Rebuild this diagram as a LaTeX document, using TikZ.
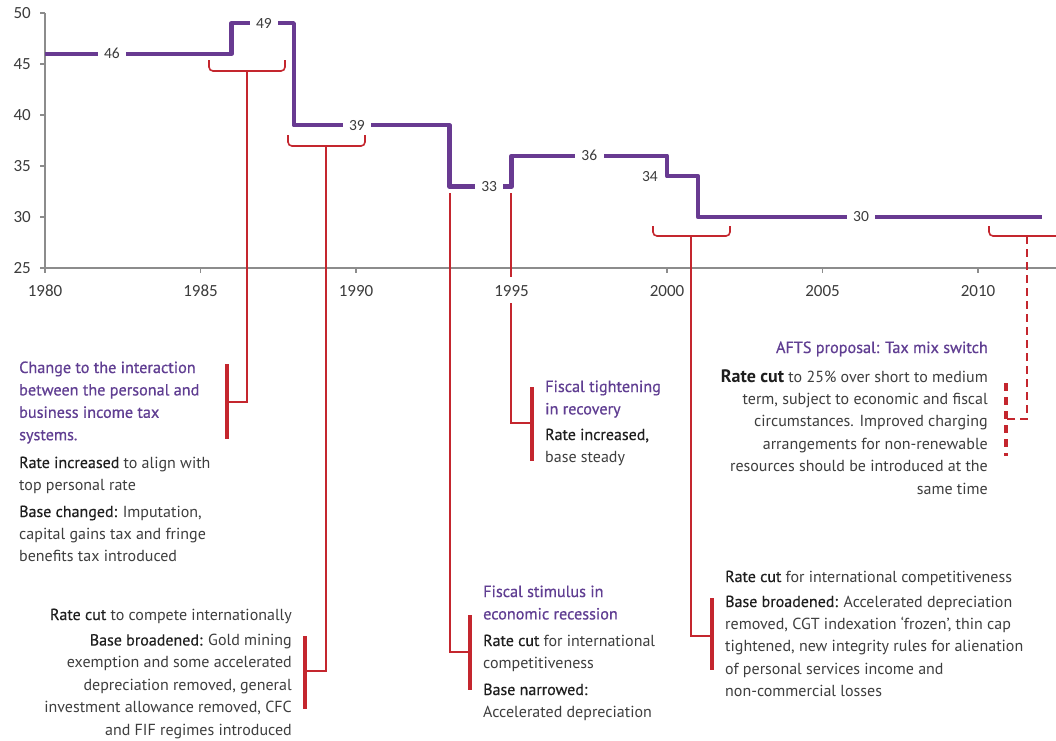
\documentclass[tikz,border=0pt]{standalone}
\usepackage{fontspec}
\setmainfont{PT Sans}
\newfontfamily\titlefont{PT Sans}[FakeBold=0.6]
\newfontfamily\keyfont{PT Sans}[FakeBold=0.35]
\newfontfamily\numfont{Carlito}
\definecolor{linepurple}{RGB}{104,58,145}
\definecolor{titlepurple}{RGB}{96,62,146}
\definecolor{redline}{RGB}{196,38,46}
\definecolor{bodygray}{RGB}{62,62,62}
\definecolor{keygray}{RGB}{30,30,30}
\definecolor{axisgray}{RGB}{140,140,140}
\definecolor{numgray}{RGB}{60,60,60}
\newcommand{\kw}[1]{{\keyfont\color{keygray}#1}}
\begin{document}
\begin{tikzpicture}[x=1pt,y=-1pt,
  txt/.style={inner sep=0pt, font=\fontsize{16}{22.4}\selectfont, text=bodygray},
  ttl/.style={inner sep=0pt, font=\titlefont\fontsize{16.2}{22.4}\selectfont, text=titlepurple},
  axlab/.style={font=\numfont\fontsize{17}{17}\selectfont, text=numgray, inner sep=0pt},
  datlab/.style={font=\numfont\fontsize{15.5}{15.5}\selectfont, text=numgray, fill=white, inner xsep=6.5pt, inner ysep=1pt},
  rate/.style={line width=4.5pt, draw=linepurple, line join=round},
  conn/.style={draw=redline, line width=1.6pt},
  redbar/.style={draw=redline, line width=4pt},
  brk/.style={draw=redline, line width=1.6pt, rounded corners=4pt},
]
\useasboundingbox[fill=white] (0,0) rectangle (1056,740);

% axes
\draw[axisgray, line width=2pt] (45,13) -- (45,268) -- (1056,268);
\foreach \v [count=\i from 0] in {50,45,40,35,30,25} {
  \draw[axisgray, line width=1.5pt] (40,{13+\i*51}) -- (45,{13+\i*51});
  \node[axlab, anchor=east] (y\v) at (31,{13+\i*51}) {\v};
}
\foreach \yr [count=\i from 0] in {1980,1985,1990,1995,2000,2005,2010} {
  \draw[axisgray, line width=1.5pt] ({45+\i*155.5},268) -- ({45+\i*155.5},273);
  \node[axlab] (x\yr) at ({45+\i*155.5},291) {\yr};
}

% rate step line
\begin{scope}[shift={(45pt,-268pt)}, x=31.1pt, y=10.2pt]
\draw[rate] (0,21) -- (6,21) -- (6,24) -- (8,24) -- (8,14) -- (13,14) -- (13,8)
  -- (15,8) -- (15,11) -- (20,11) -- (20,9) -- (21,9) -- (21,5) -- (32.06,5);
\node[datlab] (v46) at (2.15,21) {46};
\node[datlab] (v49) at (7.04,24) {49};
\node[datlab] (v39) at (10.03,14) {39};
\node[datlab] (v33) at (14.28,8) {33};
\node[datlab] (v36) at (17.5,11) {36};
\node[datlab, fill=none] (v34) at (19.45,9) {34};
\node[datlab] (v30) at (26.24,5) {30};
\end{scope}

% brackets
\draw[brk] (209,60) |- (247,71) -| (285,60);
\draw[brk] (288,135) |- (326,146) -| (365,135);
\draw[brk] (653,226) |- (691,236) -| (730,226);
\draw[brk] (989,226) |- (1056,236);
\coordinate (b1) at (247,71);
\coordinate (b2) at (326,146);
\coordinate (b3) at (450,193);
\coordinate (b4) at (511,193);
\coordinate (b4a) at (511,277);
\coordinate (b4b) at (511,303);
\coordinate (b5) at (691,236);
\coordinate (b6) at (1027,236);

% text blocks (anchored at the baseline of their last line)
\node[ttl, anchor=base west, align=left] (t1) at (19,440.2) {Change to the interaction\\between the personal and\\business income tax\\systems.};
\node[txt, anchor=base west, align=left] (r1) at (19,490.4) {\kw{Rate increased} to align with\\top personal rate};
\node[txt, anchor=base west, align=left] (s1) at (19,561.8) {\kw{Base changed:} Imputation,\\capital gains tax and fringe\\benefits tax introduced};

\node[txt, anchor=base east, align=right] (r2) at (292,620) {\kw{Rate cut} to compete internationally};
\node[txt, anchor=base east, align=right] (s2) at (292,735.1) {\kw{Base broadened:} Gold mining\\exemption and some accelerated\\depreciation removed, general\\investment allowance removed, CFC\\and FIF regimes introduced};

\node[ttl, anchor=base west, align=left] (t3) at (545,414.4) {Fiscal tightening\\in recovery};
\node[txt, anchor=base west, align=left] (r3) at (545,462.4) {\kw{Rate increased,}\\base steady};

\node[ttl, anchor=base west, align=left] (t4) at (483,619.4) {Fiscal stimulus in\\economic recession};
\node[txt, anchor=base west, align=left] (r4) at (483,668.4) {\kw{Rate cut} for international\\competitiveness};
\node[txt, anchor=base west, align=left] (s4) at (483,717.4) {\kw{Base narrowed:}\\Accelerated depreciation};

\node[txt, anchor=base west, align=left] (r5) at (725,582) {\kw{Rate cut} for international competitiveness};
\node[txt, anchor=base west, align=left] (s5) at (725,696.6) {\kw{Base broadened:} Accelerated depreciation\\removed, CGT indexation ‘frozen’, thin cap\\tightened, new integrity rules for alienation\\of personal services income and\\non-commercial losses};

\node[ttl, anchor=base east, align=right] (t6) at (988,353) {AFTS proposal: Tax mix switch};
\node[txt, anchor=base east, align=right] (r6) at (988,494) {{\fontsize{18}{22}\selectfont\bfseries\color{keygray}Rate cut} to 25\% over short to medium\\term, subject to economic and fiscal\\circumstances. Improved charging\\arrangements for non-renewable\\resources should be introduced at the\\same time};

% bars
\coordinate (m1) at (227,402);
\coordinate (m2) at (305,671);
\coordinate (m3) at (470,652);
\coordinate (m4) at (532,423);
\coordinate (m5) at (712,636);
\coordinate (m6) at (1006,419);
\draw[redbar] (227,364) -- (227,439);
\draw[redbar] (305,636) -- (305,709);
\draw[redbar] (470,615) -- (470,690);
\draw[redbar] (532,387) -- (532,461);
\draw[redbar] (712,598) -- (712,670);
\draw[redbar, dash pattern=on 8pt off 6pt] (1006,383) -- (1006,456);

% connectors
\draw[conn] (b1) |- (m1);
\draw[conn] (b2) |- (m2);
\draw[conn] (b3) |- (m3);
\draw[conn] (b4) -- (b4a);
\draw[conn] (b4b) |- (m4);
\draw[conn] (b5) |- (m5);
\draw[conn, dash pattern=on 8pt off 5pt] (b6) |- (m6);
\end{tikzpicture}
\end{document}
